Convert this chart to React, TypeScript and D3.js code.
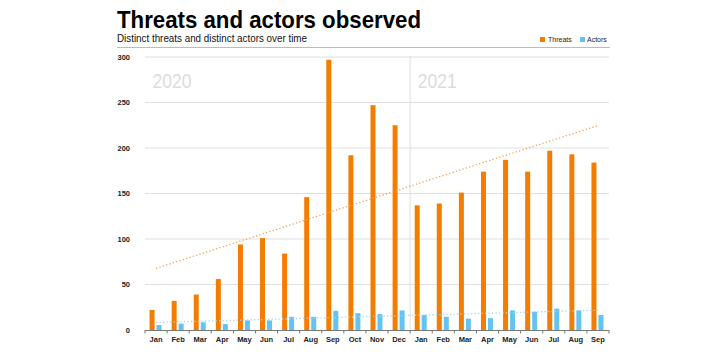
import React from "react";
import * as d3 from "d3";

const months = ["Jan","Feb","Mar","Apr","May","Jun","Jul","Aug","Sep","Oct","Nov","Dec","Jan","Feb","Mar","Apr","May","Jun","Jul","Aug","Sep"];
const threats = [22, 32, 39, 56, 94, 101, 84, 146, 297, 192, 247, 225, 137, 139, 151, 174, 187, 174, 197, 193, 184];
const actors = [5.5, 7, 8.5, 6.5, 10.5, 10.5, 14.5, 14.5, 21, 18.5, 17.5, 21.5, 16.5, 14.5, 12.5, 13, 21.5, 20, 23.5, 21.5, 16.5];
const yTicks = [0, 50, 100, 150, 200, 250, 300];
const years = [{ label: "2020", start: 0 }, { label: "2021", start: 12 }];

const W = 728, H = 355;
const left = 145, right = 609, top = 57, bottom = 330;
const ORANGE = "#f47d00";
const BLUE = "#63c3f1";
const FONT = "'Liberation Sans', Arial, Helvetica, sans-serif";

function regression(vals: number[]) {
  const n = vals.length;
  const mx = (n - 1) / 2;
  const my = d3.mean(vals) as number;
  let num = 0, den = 0;
  vals.forEach((v, i) => { num += (i - mx) * (v - my); den += (i - mx) * (i - mx); });
  const b = num / den;
  return { a: my - b * mx, b };
}

export default function App() {
  const idx = months.map((_, i) => i);
  const x = d3.scaleBand<number>().domain(idx).range([left, right]).paddingInner(0).paddingOuter(0);
  const y = d3.scaleLinear().domain([0, 300]).range([bottom, top]);
  const bw = x.bandwidth();
  const barW = 5;
  const center = (i: number) => (x(i) as number) + bw / 2;

  const trend = (vals: number[]) => {
    const r = regression(vals);
    const line = d3.line<number>().x((i) => center(i)).y((i) => y(r.a + r.b * i));
    return line([0, vals.length - 1]) as string;
  };

  return (
    <svg width={W} height={H} style={{ position: "absolute", left: 0, top: 0, fontFamily: FONT }}>
      <rect width={W} height={H} fill="#fff" />
      <text x={117} y={28} fontSize={24} fontWeight="bold" fill="#000" textLength={304} lengthAdjust="spacingAndGlyphs">Threats and actors observed</text>
      <text x={117} y={41.5} fontSize={10.5} fill="#111" textLength={190} lengthAdjust="spacingAndGlyphs">Distinct threats and distinct actors over time</text>
      <line x1={117} x2={610} y1={47.5} y2={47.5} stroke="#bbb" strokeWidth={1} />

      <rect x={540} y={37} width={5} height={5} fill={ORANGE} />
      <text x={548} y={41.8} fontSize={7} fill="#222">Threats</text>
      <rect x={580} y={37} width={5} height={5} fill={BLUE} />
      <text x={587} y={41.8} fontSize={7} fill="#222">Actors</text>

      {yTicks.map((t) => (
        <g key={t}>
          {t > 0 && <line x1={left} x2={right} y1={y(t)} y2={y(t)} stroke="#e0e0e0" strokeWidth={1} />}
          <text x={130} y={y(t) + 2.5} fontSize={7.5} fontWeight="bold" textAnchor="end" fill="#222">{t}</text>
        </g>
      ))}

      {years.map((yr) => (
        <text key={yr.label} x={(x(yr.start) as number) + 7.5} y={88} fontSize={21} fill="#dcdcdc" textLength={39} lengthAdjust="spacingAndGlyphs">{yr.label}</text>
      ))}
      <line x1={x(12) as number} x2={x(12) as number} y1={top - 1} y2={bottom} stroke="#dedede" strokeWidth={1} />

      {threats.map((v, i) => (
        <rect key={"t" + i} x={center(i) - 6.5} y={y(v)} width={barW} height={bottom - y(v)} fill={ORANGE} />
      ))}
      {actors.map((v, i) => (
        <rect key={"a" + i} x={center(i) + 0.5} y={y(v)} width={barW} height={bottom - y(v)} fill={BLUE} />
      ))}

      <path d={trend(threats)} stroke="#f2a55a" strokeWidth={1.3} strokeDasharray="1.3 2.2" fill="none" />
      <path d={trend(actors)} stroke="#9fd8f5" strokeWidth={1.3} strokeDasharray="1.3 2.2" fill="none" />

      <line x1={left} x2={right} y1={bottom + 0.5} y2={bottom + 0.5} stroke="#777" strokeWidth={1} />
      {[...idx, months.length].map((i) => {
        const xx = i < months.length ? (x(i) as number) : right;
        return <line key={"k" + i} x1={xx} x2={xx} y1={bottom} y2={bottom + 3.5} stroke="#777" strokeWidth={1} />;
      })}
      {months.map((m, i) => (
        <text key={"m" + i} x={center(i)} y={342} fontSize={7.5} fontWeight="bold" textAnchor="middle" fill="#222">{m}</text>
      ))}
    </svg>
  );
}
